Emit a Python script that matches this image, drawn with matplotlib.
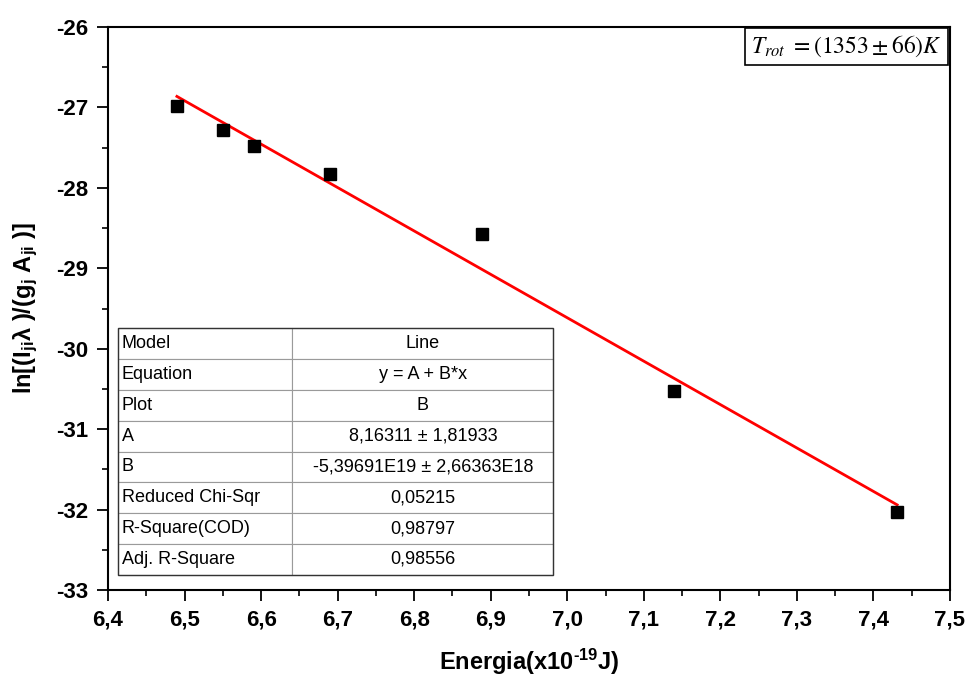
import numpy as np
import matplotlib
matplotlib.use('Agg')
import matplotlib.pyplot as plt
from matplotlib.ticker import FuncFormatter, MultipleLocator

plt.rcParams['font.family'] = ['Liberation Sans', 'DejaVu Sans']
plt.rcParams['mathtext.fontset'] = 'custom'
plt.rcParams['mathtext.rm'] = 'Liberation Sans'
plt.rcParams['mathtext.bf'] = 'Liberation Sans:bold'
plt.rcParams['mathtext.it'] = 'Liberation Sans:italic'

# data (energy in 1e-19 J)
energia = [6.490, 6.550, 6.591, 6.690, 6.888, 7.139, 7.431]
ln_int = [-26.98, -27.28, -27.48, -27.83, -28.57, -30.52, -32.03]

# linear fit parameters from the table
fit_A = 8.16311
fit_B = -5.39691  # per 1e-19 J

table_rows = [
    ['Model', 'Line'],
    ['Equation', 'y = A + B*x'],
    ['Plot', 'B'],
    ['A', '8,16311 ± 1,81933'],
    ['B', '-5,39691E19 ± 2,66363E18'],
    ['Reduced Chi-Sqr', '0,05215'],
    ['R-Square(COD)', '0,98797'],
    ['Adj. R-Square', '0,98556'],
]

fig = plt.figure(figsize=(9.67, 6.82), dpi=100)
ax = fig.add_axes([0.1117, 0.1349, 0.8707, 0.8255])

xfit = np.array([min(energia), max(energia)])
ax.plot(xfit, fit_A + fit_B * xfit, color='red', lw=2, zorder=2)
ax.plot(energia, ln_int, 's', color='black', ms=9, zorder=3)

ax.set_xlim(6.4, 7.5)
ax.set_ylim(-33, -26)
ax.xaxis.set_major_locator(MultipleLocator(0.1))
ax.xaxis.set_minor_locator(MultipleLocator(0.05))
ax.yaxis.set_major_locator(MultipleLocator(1))
ax.yaxis.set_minor_locator(MultipleLocator(0.5))
ax.xaxis.set_major_formatter(FuncFormatter(lambda v, p: f'{v:.1f}'.replace('.', ',')))
ax.yaxis.set_major_formatter(FuncFormatter(lambda v, p: f'{v:.0f}'.replace('\u2212', '-')))
ax.tick_params(which='major', direction='out', length=8, width=1.3, labelsize=16, pad=6)
ax.tick_params(which='minor', direction='out', length=4, width=1.2)
for lab in ax.get_xticklabels() + ax.get_yticklabels():
    lab.set_fontweight('bold')
for s in ax.spines.values():
    s.set_linewidth(1.5)

ax.set_xlabel('Energia(x10$^{\\mathbf{\u201019}}$J)', fontsize=17, fontweight='bold', labelpad=12)
ax.set_ylabel(r'ln[(I$_{\mathbf{ji}}$λ )/(g$_{\mathbf{j}}$ A$_{\mathbf{ji}}$ )]',
              fontsize=17, fontweight='bold', labelpad=12)

tab = ax.table(cellText=table_rows, colWidths=[0.4, 0.6],
               bbox=[0.012, 0.027, 0.517, 0.438])
tab.auto_set_font_size(False)
for (r, c), cell in tab.get_celld().items():
    cell.set_edgecolor('#9a9a9a')
    cell.set_linewidth(0.8)
    cell.set_facecolor('white')
    cell.get_text().set_fontsize(13)
    if c == 0:
        cell.get_text().set_ha('left')
        cell.PAD = 0.02
    else:
        cell.get_text().set_ha('center')
tab.set_zorder(4)
ax.add_patch(plt.Rectangle((0.012, 0.027), 0.517, 0.438, transform=ax.transAxes,
                           fill=False, ec='#333333', lw=1.0, zorder=5))

ax.text(0.877, 0.966, r'$T_{rot}\ =(1353\pm66)K$', transform=ax.transAxes,
        ha='center', va='center', fontsize=17, math_fontfamily='stix',
        bbox=dict(boxstyle='square,pad=0.25', fc='white', ec='black', lw=1.2))

fig.savefig('out.png', dpi=100)
